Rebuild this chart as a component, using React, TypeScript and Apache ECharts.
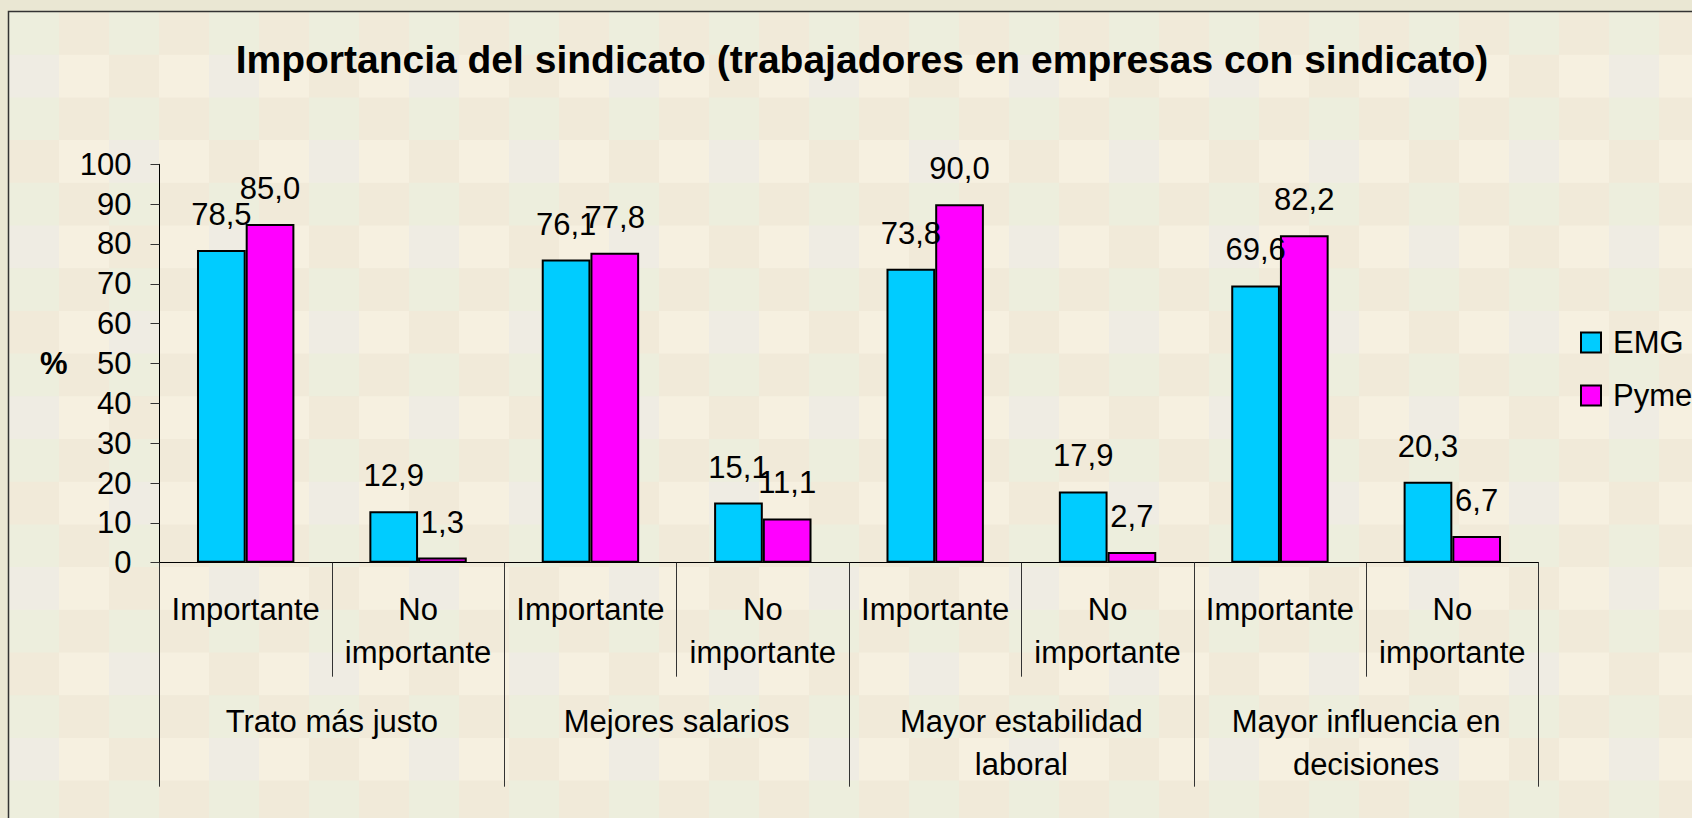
import React, { useEffect, useRef } from "react";
import * as echarts from "echarts";

const subCategories = [
  "Importante",
  "No\nimportante",
  "Importante",
  "No\nimportante",
  "Importante",
  "No\nimportante",
  "Importante",
  "No\nimportante",
];
const groupCategories = [
  "Trato más justo",
  "Mejores salarios",
  "Mayor estabilidad\nlaboral",
  "Mayor influencia en\ndecisiones",
];
const seriesNames = ["EMG", "Pyme"];
const emgValues = [78.5, 12.9, 76.1, 15.1, 73.8, 17.9, 69.6, 20.3];
const pymeValues = [85.0, 1.3, 77.8, 11.1, 90.0, 2.7, 82.2, 6.7];
const yMin = 0;
const yMax = 100;
const yInterval = 10;

const FONT = "'Liberation Sans', Arial, Helvetica, sans-serif";

function buildBackground() {
  const els: any[] = [];
  const tw = 50;
  const th = 42.7;
  for (let j = 0; j < 20; j++) {
    for (let i = 0; i < 35; i++) {
      let fill: string;
      if (j % 2 === 0) {
        fill = i % 2 === 0 ? "#EDEEDD" : "#F1EAD9";
      } else {
        if (i % 2 === 1) fill = "#F6F0E0";
        else fill = (Math.floor(i / 2) + Math.floor(j / 2)) % 2 === 0 ? "#EFECE3" : "#F1EAD9";
      }
      els.push({
        type: "rect",
        silent: true,
        z: -10,
        shape: { x: 9 + i * tw, y: 12 + j * th, width: tw + 0.5, height: th + 0.5 },
        style: { fill },
      });
    }
  }
  els.push({
    type: "rect",
    silent: true,
    z: -9,
    shape: { x: 8.5, y: 11.5, width: 1700, height: 820 },
    style: { fill: "none", stroke: "#333", lineWidth: 1.5 },
  });
  return els;
}

const fmt = (p: any) => Number(p.value).toFixed(1).replace(".", ",");

export default function App() {
  const ref = useRef<HTMLDivElement>(null);
  useEffect(() => {
    document.body.style.margin = "0";
    if (!ref.current) return;
    const chart = echarts.init(ref.current, null, { renderer: "svg" });
    const labelCommon = {
      show: true,
      position: "top",
      distance: 20,
      fontSize: 31,
      fontFamily: FONT,
      color: "#000",
      formatter: fmt,
    };
    chart.setOption({
      animation: false,
      backgroundColor: "#EAE7D3",
      textStyle: { fontFamily: FONT },
      graphic: buildBackground(),
      title: {
        text: "Importancia del sindicato (trabajadores en empresas con sindicato)",
        left: 857,
        top: 35,
        textAlign: "center",
        textStyle: { fontSize: 39, fontWeight: "bold", color: "#000", fontFamily: FONT },
      },
      legend: {
        orient: "vertical",
        left: 1580,
        top: 327,
        itemWidth: 20,
        itemHeight: 20,
        itemGap: 22,
        padding: 0,
        icon: "rect",
        data: seriesNames,
        textStyle: { fontSize: 31, color: "#000", fontFamily: FONT, padding: [0, 0, 0, 7] },
      },
      grid: { left: 159.5, top: 164.3, width: 1379, height: 398.4, containLabel: false },
      xAxis: [
        {
          type: "category",
          data: subCategories,
          position: "bottom",
          axisLine: { show: true, lineStyle: { color: "#000", width: 1 } },
          axisTick: { show: true, interval: 0, length: 114, lineStyle: { color: "#333", width: 1 } },
          axisLabel: {
            interval: 0,
            margin: 25,
            fontSize: 31,
            lineHeight: 43,
            color: "#000",
            fontFamily: FONT,
          },
          splitLine: { show: false },
        },
        {
          type: "category",
          data: groupCategories,
          position: "bottom",
          axisLine: { show: false },
          axisTick: { show: true, interval: 0, length: 224, lineStyle: { color: "#333", width: 1 } },
          axisLabel: {
            interval: 0,
            margin: 137,
            fontSize: 31,
            lineHeight: 43,
            color: "#000",
            fontFamily: FONT,
          },
          splitLine: { show: false },
        },
      ],
      yAxis: {
        type: "value",
        min: yMin,
        max: yMax,
        interval: yInterval,
        name: "%",
        nameLocation: "middle",
        nameRotate: 0,
        nameGap: 92,
        nameTextStyle: { fontSize: 31, fontWeight: "bold", color: "#000", fontFamily: FONT },
        axisLine: { show: true, lineStyle: { color: "#000", width: 1 } },
        axisTick: { show: true, length: 9, lineStyle: { color: "#333", width: 1 } },
        axisLabel: { margin: 28, fontSize: 31, color: "#000", fontFamily: FONT },
        splitLine: { show: false },
      },
      series: [
        {
          name: seriesNames[0],
          type: "bar",
          xAxisIndex: 0,
          data: emgValues,
          barWidth: 48.7,
          barGap: "0%",
          itemStyle: { color: "#00CCFF", borderColor: "#000", borderWidth: 2 },
          label: labelCommon,
        },
        {
          name: seriesNames[1],
          type: "bar",
          xAxisIndex: 0,
          data: pymeValues,
          barWidth: 48.7,
          barGap: "0%",
          itemStyle: { color: "#FF00FF", borderColor: "#000", borderWidth: 2 },
          label: labelCommon,
        },
      ],
    });
    return () => chart.dispose();
  }, []);
  return <div ref={ref} style={{ width: 1692, height: 818 }} />;
}
